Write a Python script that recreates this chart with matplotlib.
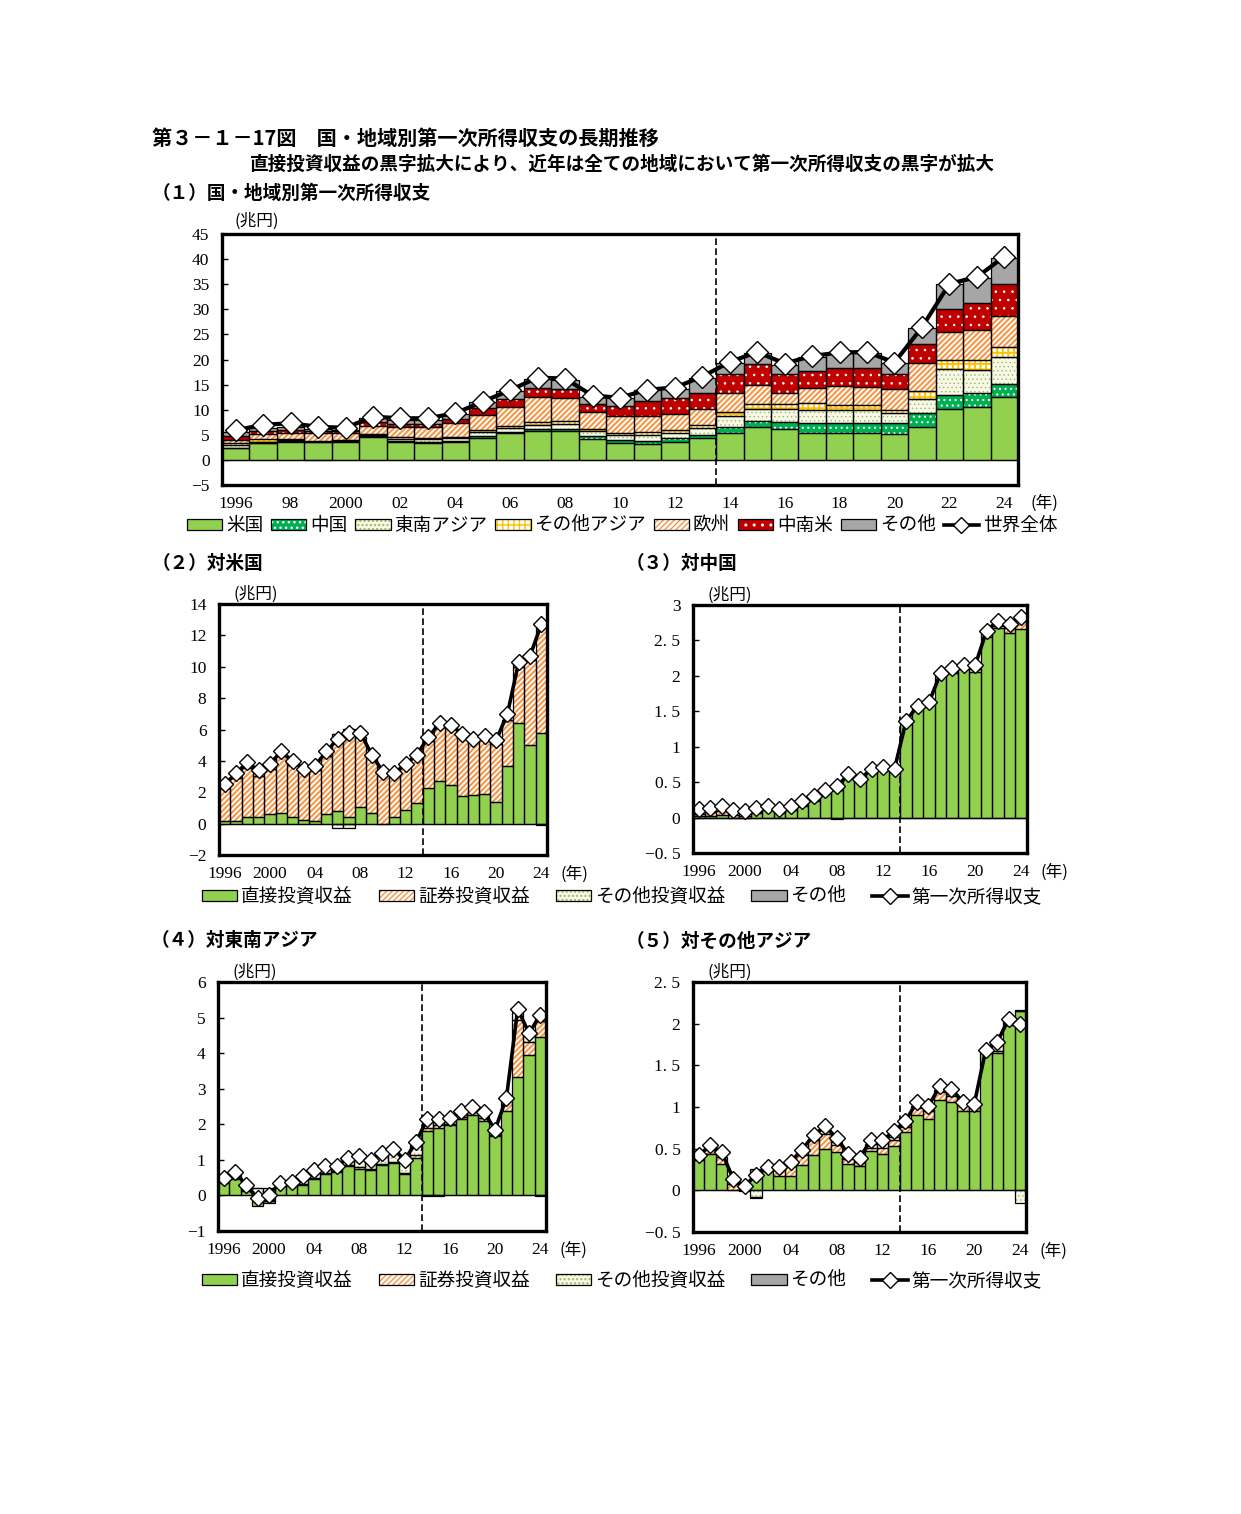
import numpy as np
import matplotlib
matplotlib.use('Agg')
import matplotlib.pyplot as plt
from matplotlib.patches import Patch
from matplotlib.lines import Line2D

plt.rcParams['font.family'] = ['Noto Sans CJK JP', 'DejaVu Sans']

years = list(range(1996, 2025))

# (1) 国・地域別第一次所得収支 (兆円)
region_names = ['米国', '中国', '東南アジア', 'その他アジア', '欧州', '中南米', 'その他']
reg_us = [2.3, 3.3, 3.6, 3.5, 3.6, 4.5, 3.6, 3.4, 3.5, 4.4, 5.3, 5.8, 5.8, 4.2, 3.4,
          3.2, 3.6, 4.3, 5.3, 6.5, 6.2, 5.4, 5.3, 5.3, 5.1, 6.6, 10.1, 10.6, 12.5]
reg_cn = [0.1, 0.1, 0.1, 0.1, 0.1, 0.2, 0.2, 0.2, 0.2, 0.3, 0.2, 0.3, 0.4, 0.6, 0.5,
          0.6, 0.7, 0.7, 1.3, 1.3, 1.4, 2.0, 2.1, 2.1, 2.2, 2.8, 2.8, 2.8, 2.7]
reg_sea = [0.5, 0.2, 0.2, -0.1, 0.1, 0.3, 0.4, 0.5, 0.6, 0.8, 0.8, 0.8, 0.9, 1.0, 1.0,
           1.2, 1.0, 1.3, 2.2, 2.3, 2.5, 2.5, 2.5, 2.5, 2.0, 2.7, 5.2, 4.5, 5.3]
reg_oa = [0.4, 0.5, 0.3, 0.2, 0.1, 0.2, 0.3, 0.3, 0.3, 0.5, 0.5, 0.7, 0.7, 0.4, 0.4,
          0.6, 0.7, 0.7, 0.8, 1.0, 1.0, 1.4, 1.0, 1.0, 0.6, 1.6, 1.9, 2.0, 1.9]
reg_eu = [0.6, 1.0, 1.1, 1.6, 1.4, 1.5, 2.0, 2.1, 2.8, 3.0, 3.8, 4.9, 4.5, 3.3, 3.4,
          3.1, 3.1, 3.1, 3.8, 3.9, 2.3, 3.1, 3.8, 3.7, 4.2, 5.6, 5.4, 5.9, 6.3]
reg_la = [0.8, 0.6, 0.6, 0.4, 0.4, 0.8, 0.6, 0.6, 0.8, 1.3, 1.5, 1.9, 1.9, 1.6, 2.0,
          3.1, 3.2, 3.3, 3.8, 4.2, 3.7, 3.3, 3.6, 3.8, 3.1, 3.7, 4.7, 5.5, 6.4]
reg_other = [0.9, 0.6, 0.7, 0.4, 0.3, 0.8, 0.8, 0.8, 1.0, 1.2, 1.7, 1.8, 1.8, 1.5, 1.6,
             2.1, 1.9, 3.0, 2.2, 2.0, 1.9, 2.8, 2.9, 2.9, 2.1, 3.2, 4.9, 5.0, 5.2]
world_total = [5.9, 7.0, 7.3, 6.6, 6.4, 8.6, 8.3, 8.3, 9.3, 11.6, 13.9, 16.4, 16.2, 12.8, 12.4,
               14.0, 14.4, 16.6, 19.5, 21.5, 19.2, 20.7, 21.4, 21.5, 19.4, 26.4, 35.1, 36.4, 40.5]

# (2)-(5) 内訳
item_names = ['直接投資収益', '証券投資収益', 'その他投資収益', 'その他']

us_di = [0.15, 0.15, 0.45, 0.45, 0.6, 0.7, 0.45, 0.2, 0.15, 0.6, 0.8, 0.45, 1.05, 0.65, 0.0,
         0.4, 0.9, 1.3, 2.25, 2.7, 2.45, 1.75, 1.8, 1.9, 1.4, 3.7, 6.4, 5.0, 5.8]
us_port = [2.15, 2.75, 3.1, 2.6, 2.9, 3.6, 3.3, 3.2, 3.25, 3.7, 4.9, 5.6, 4.45, 3.65, 3.15,
           2.75, 2.9, 2.9, 3.0, 3.55, 3.75, 3.75, 3.4, 3.45, 3.7, 2.9, 3.6, 5.4, 6.85]
us_oi = [0, 0, 0, 0, 0, 0, 0, 0, 0, 0, -0.25, -0.25, 0, 0, 0,
         0, 0, 0, 0, 0, 0, 0, 0, -0.05, 0, 0, 0.2, 0, -0.1]
us_other = [0] * 29
us_total = [2.5, 3.2, 3.9, 3.4, 3.8, 4.6, 4.0, 3.5, 3.7, 4.6, 5.4, 5.8, 5.8, 4.4, 3.3,
            3.2, 3.8, 4.4, 5.5, 6.4, 6.3, 5.7, 5.4, 5.6, 5.3, 7.0, 10.3, 10.7, 12.7]

cn_di = [0.02, 0.02, 0.04, 0.0, 0.0, 0.06, 0.1, 0.07, 0.1, 0.16, 0.23, 0.35, 0.39, 0.56, 0.51,
         0.64, 0.72, 0.70, 1.34, 1.53, 1.6, 2.0, 2.04, 2.12, 2.06, 2.55, 2.68, 2.61, 2.66]
cn_port = [0.03, 0.06, 0.05, 0.03, 0.02, 0.02, 0.02, 0.02, 0.02, 0.02, 0.02, 0.01, 0.0, 0.01, 0.01,
           0.01, 0.0, 0.0, 0.0, 0.01, 0.01, 0.01, 0.02, 0.01, 0.04, 0.06, 0.02, 0.07, 0.12]
cn_oi = [0.05, 0.04, 0.06, 0.05, 0.04, 0.03, 0.02, 0.02, 0.02, 0.01, 0.01, 0.0, 0.0, 0.0, 0.0,
         0.0, 0.0, 0.0, 0.0, 0.0, 0.0, 0.0, 0.0, 0.0, 0.0, 0.0, 0.0, 0.0, 0.0]
cn_other = [-0.01, -0.01, -0.01, -0.01, -0.01, -0.01, -0.01, -0.01, -0.01, -0.01, -0.01, -0.01, -0.02, -0.01, -0.01,
            -0.01, -0.01, -0.01, -0.01, -0.01, -0.01, -0.01, -0.01, -0.01, -0.01, -0.01, -0.01, -0.01, -0.01]
cn_total = [0.12, 0.14, 0.17, 0.11, 0.09, 0.13, 0.17, 0.12, 0.17, 0.23, 0.30, 0.39, 0.44, 0.61, 0.55,
            0.68, 0.71, 0.69, 1.36, 1.58, 1.63, 2.04, 2.11, 2.16, 2.15, 2.64, 2.78, 2.73, 2.83]

sea_di = [0.35, 0.46, 0.13, -0.3, -0.12, 0.3, 0.3, 0.3, 0.47, 0.6, 0.66, 0.82, 0.75, 0.72, 0.86,
          0.91, 0.6, 1.05, 1.82, 1.89, 1.99, 2.15, 2.27, 2.1, 1.66, 2.38, 3.32, 3.95, 4.45]
sea_port = [0.02, 0.05, 0.03, 0.0, -0.05, 0.02, 0.03, 0.03, 0.03, 0.03, 0.03, 0.04, 0.04, 0.03, 0.03,
            0.04, 0.04, 0.08, 0.07, 0.1, 0.02, 0.05, 0.07, 0.07, 0.05, 0.3, 1.6, 0.36, 0.45]
sea_oi = [0.12, 0.15, 0.12, 0.2, 0.2, 0.05, 0.08, 0.2, 0.2, 0.2, 0.15, 0.2, 0.3, 0.25, 0.3,
          0.35, 0.35, 0.3, 0.2, 0.15, 0.15, 0.1, 0.05, 0.1, 0.1, 0.0, 0.25, 0.2, 0.15]
sea_other = [0, 0, 0, 0, -0.05, 0, 0, 0, 0, 0, 0, 0, 0, 0, 0,
             0, 0, 0, -0.02, -0.02, 0, 0, 0, 0, 0, 0, 0, 0, -0.01]
sea_total = [0.5, 0.67, 0.28, -0.08, 0.02, 0.35, 0.39, 0.55, 0.72, 0.82, 0.83, 1.05, 1.12, 1.0, 1.19,
             1.31, 1.0, 1.49, 2.15, 2.16, 2.17, 2.36, 2.48, 2.34, 1.85, 2.74, 5.24, 4.56, 5.08]

oa_di = [0.36, 0.44, 0.32, 0.01, -0.01, 0.22, 0.23, 0.17, 0.17, 0.3, 0.42, 0.5, 0.46, 0.32, 0.29,
         0.47, 0.44, 0.53, 0.7, 0.91, 0.86, 1.08, 1.06, 0.95, 0.95, 1.65, 1.65, 1.98, 2.15]
oa_port = [0.02, 0.05, 0.08, 0.07, 0.02, 0.04, 0.03, 0.07, 0.12, 0.13, 0.18, 0.18, 0.08, 0.06, 0.05,
           0.04, 0.07, 0.08, 0.06, 0.08, 0.09, 0.1, 0.07, 0.07, 0.06, 0.0, 0.02, 0.03, 0.0]
oa_oi = [0.05, 0.02, 0.0, 0.0, 0.0, -0.08, 0.02, 0.02, 0.02, 0.02, 0.02, 0.04, 0.04, 0.02, 0.02,
         0.05, 0.06, 0.03, 0.02, 0.02, 0.02, 0.02, 0.03, 0.02, 0.02, 0.02, 0.09, 0.02, -0.15]
oa_other = [0, 0, 0, 0, 0, -0.01, 0, 0, 0, 0, 0, 0, 0, 0, 0,
            0, 0, 0, 0, 0, 0, 0, 0, 0, 0, 0, 0, 0, 0.01]
oa_total = [0.42, 0.54, 0.46, 0.14, 0.05, 0.19, 0.28, 0.28, 0.34, 0.49, 0.66, 0.77, 0.63, 0.44, 0.39,
            0.6, 0.6, 0.71, 0.83, 1.06, 1.01, 1.25, 1.22, 1.06, 1.04, 1.69, 1.78, 2.06, 2.0]

# styles: (facecolor, hatch, hatch colour, hatch linewidth)
region_styles = [('#92D050', None, None, 1.0),
                 ('#00B050', '...', 'white', 0.8),
                 ('#F8F8E8', '....', '#9BBB59', 0.5),
                 ('white', '+++', '#FFC000', 1.4),
                 ('white', '//////', '#F79646', 1.5),
                 ('#C00000', '..', 'white', 0.6),
                 ('#A6A6A6', None, None, 1.0)]
item_styles = [('#92D050', None, None, 1.0),
               ('white', '//////', '#F79646', 1.5),
               ('#F8F8E8', '....', '#9BBB59', 0.5),
               ('#A6A6A6', None, None, 1.0)]

W, H = 1241, 1514
fig = plt.figure(figsize=(W / 100, H / 100), dpi=100)
serif = 'Liberation Serif'


def px(x, y):
    return x / W, 1 - y / H


def axes_px(l, t, r, b):
    return fig.add_axes([l / W, 1 - b / H, (r - l) / W, (b - t) / H])


def draw_stack(ax, layers, styles):
    x = np.arange(len(years))
    pos = np.zeros(len(x))
    neg = np.zeros(len(x))
    for vals, (fc, hatch, hc, hlw) in zip(layers, styles):
        v = np.asarray(vals, float)
        bottom = np.where(v >= 0, pos, neg)
        with plt.rc_context({'hatch.linewidth': hlw}):
            ax.bar(x, v, bottom=bottom, width=1.0, color=fc, hatch=hatch,
                   edgecolor=hc, linewidth=0, zorder=2)
        ax.bar(x, v, bottom=bottom, width=1.0, fill=False, edgecolor='black',
               linewidth=0.9, zorder=3)
        pos += np.clip(v, 0, None)
        neg += np.clip(v, None, 0)


def draw_line(ax, vals, ms, lw):
    ax.plot(np.arange(len(years)), vals, color='black', lw=lw, marker='D',
            ms=ms, mfc='white', mec='black', mew=1.0, zorder=5)


def setup(ax, ylim, ystep, ylabels, xstep):
    ax.set_xlim(-0.5, len(years) - 0.5)
    ax.set_ylim(*ylim)
    ax.set_yticks(np.arange(ylim[0], ylim[1] + ystep / 2, ystep))
    ax.set_yticklabels(ylabels, fontfamily=serif, fontsize=12.5)
    idx = list(range(0, len(years), xstep))
    labs = []
    for i in idx:
        y = years[i]
        labs.append(str(y) if y in (1996, 2000) else '%02d' % (y % 100))
    ax.set_xticks(idx)
    ax.set_xticklabels(labs, fontfamily=serif, fontsize=12.5)
    ax.tick_params(axis='x', length=0, pad=8)
    ax.tick_params(axis='y', direction='in', length=4, width=1, pad=9)
    for s in ax.spines.values():
        s.set_linewidth(2.4)
        s.set_zorder(6)
    ax.axvline(17.5, color='black', lw=1.2, ls=(0, (4, 2)), zorder=4)
    ax.axhline(0, color='black', lw=0.9, zorder=3)


def legend_handles(styles):
    hs = []
    for fc, hatch, hc, hlw in styles:
        with plt.rc_context({'hatch.linewidth': hlw}):
            p = Patch(facecolor=fc, hatch=hatch, edgecolor=hc, lw=0)
        hs.append((p, Patch(fill=False, edgecolor='black', lw=0.9)))
    hs.append(Line2D([], [], color='black', lw=2.6, marker='D', ms=8.5,
                     mfc='white', mec='black'))
    return hs


# titles
fig.text(*px(152, 138), '第３－１－17図　国・地域別第一次所得収支の長期推移',
         fontsize=14.5, fontweight='bold', va='center', ha='left')
fig.text(*px(250, 164), '直接投資収益の黒字拡大により、近年は全ての地域において第一次所得収支の黒字が拡大',
         fontsize=13.4, fontweight='bold', va='center', ha='left')
fig.text(*px(152, 193), '（１）国・地域別第一次所得収支', fontsize=13.4, fontweight='bold',
         va='center', ha='left')

# (1)
ax1 = axes_px(222, 234, 1018, 485)
draw_stack(ax1, [reg_us, reg_cn, reg_sea, reg_oa, reg_eu, reg_la, reg_other], region_styles)
draw_line(ax1, world_total, 11, 3.0)
setup(ax1, (-5, 45), 5, ['−5', '0', '5', '10', '15', '20', '25', '30', '35', '40', '45'], 2)
fig.text(*px(257, 221), '(兆円)', fontsize=12, va='center', ha='center')
fig.text(*px(1044, 503), '(年)', fontsize=12, va='center', ha='center')
fig.legend(legend_handles(region_styles), region_names + ['世界全体'], loc='center',
           bbox_to_anchor=px(622, 526), ncol=8, frameon=False, fontsize=13.4,
           handlelength=1.9, handleheight=0.5, handletextpad=0.2, columnspacing=0.42,
           borderpad=0, borderaxespad=0)

# (2)-(5)
panels = [
    ('（２）対米国', (219, 604, 547, 855), [us_di, us_port, us_oi, us_other], us_total,
     (-2, 14), 2, ['−2', '0', '2', '4', '6', '8', '10', '12', '14']),
    ('（３）対中国', (693, 605, 1027, 853), [cn_di, cn_port, cn_oi, cn_other], cn_total,
     (-0.5, 3), 0.5, ['−0. 5', '0', '0. 5', '1', '1. 5', '2', '2. 5', '3']),
    ('（４）対東南アジア', (218, 982, 546, 1231), [sea_di, sea_port, sea_oi, sea_other], sea_total,
     (-1, 6), 1, ['−1', '0', '1', '2', '3', '4', '5', '6']),
    ('（５）対その他アジア', (693, 982, 1026, 1232), [oa_di, oa_port, oa_oi, oa_other], oa_total,
     (-0.5, 2.5), 0.5, ['−0. 5', '0', '0. 5', '1', '1. 5', '2', '2. 5']),
]
for title, (l, t, r, b), layers, total, ylim, ystep, ylabs in panels:
    ax = axes_px(l, t, r, b)
    draw_stack(ax, layers, item_styles)
    draw_line(ax, total, 8.5, 2.6)
    setup(ax, ylim, ystep, ylabs, 4)
    fig.text(*px(l - 67, t - 41), title, fontsize=13.4, fontweight='bold', va='center', ha='left')
    fig.text(*px(l + 37, t - 10), '(兆円)', fontsize=12, va='center', ha='center')
    fig.text(*px(r + 27, b + 19), '(年)', fontsize=12, va='center', ha='center')

for y in (897, 1281):
    fig.legend(legend_handles(item_styles), item_names + ['第一次所得収支'], loc='center',
               bbox_to_anchor=px(622, y), ncol=5, frameon=False, fontsize=13.4,
               handlelength=1.9, handleheight=0.5, handletextpad=0.2, columnspacing=1.4,
               borderpad=0, borderaxespad=0)

fig.savefig('out.png', dpi=100)
